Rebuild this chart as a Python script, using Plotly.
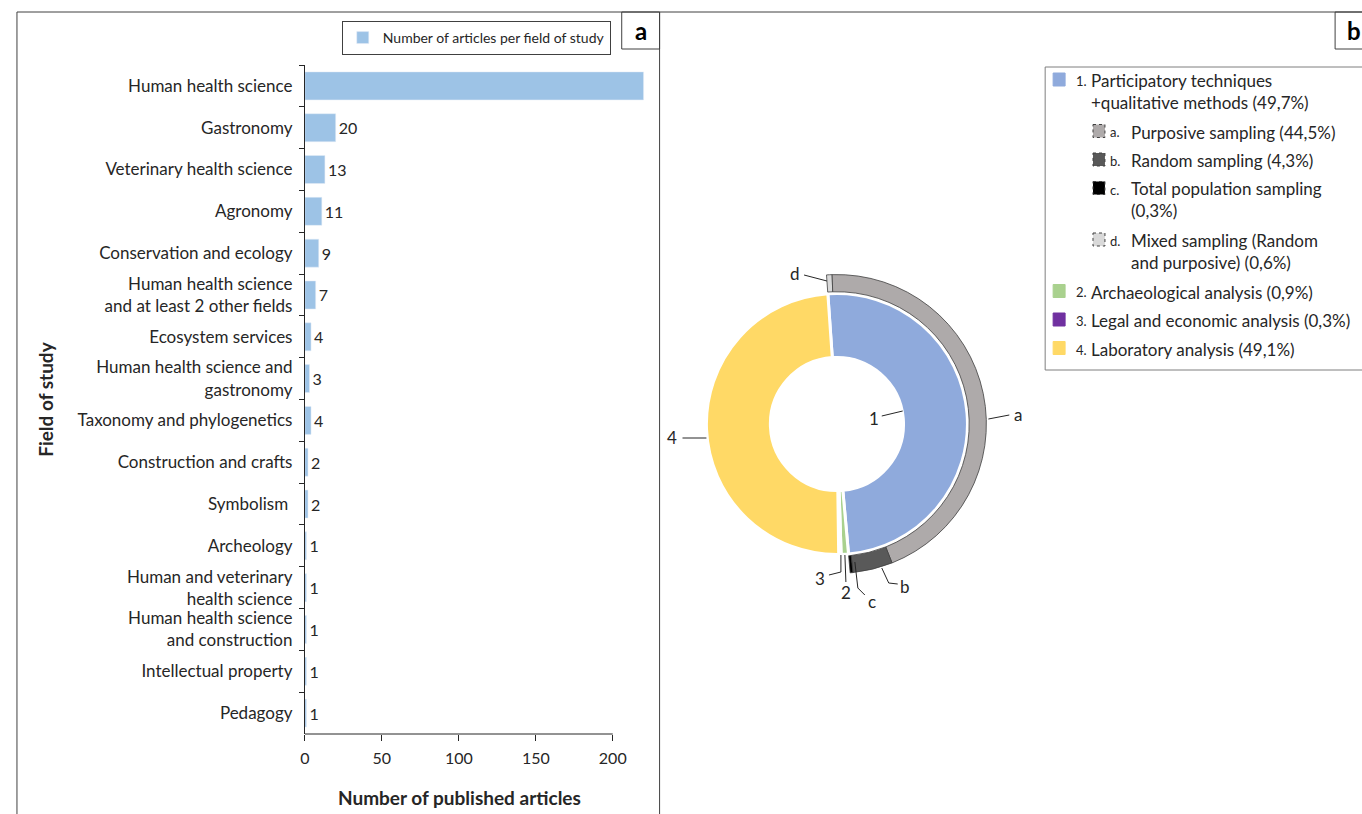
import plotly.graph_objects as go

W, H = 1362, 814
FONT = 'Lato'
INK = '#262626'

# ---- data: panel a ----
fields = ['Human health science', 'Gastronomy', 'Veterinary health science', 'Agronomy',
          'Conservation and ecology', 'Human health science<br>and at least 2 other fields',
          'Ecosystem services', 'Human health science and<br>gastronomy',
          'Taxonomy and phylogenetics', 'Construction and crafts', 'Symbolism ',
          'Archeology', 'Human and veterinary<br>health science',
          'Human health science<br>and construction', 'Intellectual property', 'Pedagogy']
articles = [220, 20, 13, 11, 9, 7, 4, 3, 4, 2, 2, 1, 1, 1, 1, 1]
bar_labels = [''] + [str(v) for v in articles[1:]]   # top bar runs off the frame, no label
x_ticks = [0, 50, 100, 150, 200]

# ---- data: panel b ----
method_ids = ['1', '2', '3', '4']
method_names = ['Participatory techniques<br>+qualitative methods', 'Archaeological analysis',
                'Legal and economic analysis', 'Laboratory analysis']
method_share = [49.7, 0.9, 0.3, 49.1]
method_colors = ['#8FAADC', '#A9D18E', '#7030A0', '#FFD966']

sampling_ids = ['d', 'a', 'b', 'c']
sampling_names = ['Mixed sampling (Random<br>and purposive)', 'Purposive sampling',
                  'Random sampling', 'Total population sampling<br>']
sampling_share = [0.6, 44.5, 4.3, 0.3]
sampling_colors = ['#D9D9D9', '#AEAAAA', '#595959', '#000000']


def X(p):
    return p / W


def Y(p):
    return 1 - p / H


def pct(v):
    return f'{v:.1f}%'.replace('.', ',')


def note(x, y, text, size, **kw):
    d = dict(x=X(x), y=Y(y), xref='paper', yref='paper', text=text, showarrow=False,
             xanchor='center', yanchor='middle', font=dict(family=FONT, size=size, color=INK))
    d.update(kw)
    return d


fig = go.Figure()

fig.add_trace(go.Bar(
    x=articles, y=fields, orientation='h',
    marker=dict(color='#9DC3E6'),
    text=bar_labels, textposition='outside', cliponaxis=False,
    textfont=dict(family=FONT, size=16, color=INK),
    name='Number of articles per field of study', showlegend=True,
))

# inner ring: methods
rot = -4
fig.add_trace(go.Pie(
    values=method_share, labels=method_ids, sort=False, direction='clockwise',
    rotation=rot, hole=0.51, textinfo='none', hoverinfo='label+value',
    marker=dict(colors=method_colors, line=dict(color='white', width=3)),
    domain=dict(x=[X(704), X(966)], y=[Y(555), Y(293)]), showlegend=False,
))

# outer ring: sampling within method 1, the rest left empty
rest = round(100 - sum(sampling_share), 1)
fig.add_trace(go.Pie(
    values=sampling_share + [rest], labels=sampling_ids + ['rest'], sort=False,
    direction='clockwise', rotation=rot, hole=0.885, textinfo='none',
    hoverinfo='label+value',
    marker=dict(colors=sampling_colors + ['rgba(0,0,0,0)'],
                line=dict(color=['#404040'] * 4 + ['rgba(0,0,0,0)'], width=[0.8] * 4 + [0])),
    domain=dict(x=[X(685), X(985)], y=[Y(574), Y(274)]), showlegend=False,
))

shapes = []
annotations = []

# frames
line_col = '#404040'
for x0, y0, x1, y1 in [(12, 12, 1362, 12), (12, 12, 12, 814), (657, 12, 657, 814)]:
    shapes.append(dict(type='line', xref='paper', yref='paper', x0=X(x0), y0=Y(y0),
                       x1=X(x1), y1=Y(y1), line=dict(color=line_col, width=1)))
for x0, x1, txt, tx in [(619, 657, 'a', 638), (1335, 1372, 'b', 1354)]:
    shapes.append(dict(type='rect', xref='paper', yref='paper', x0=X(x0), y0=Y(12),
                       x1=X(x1), y1=Y(49), line=dict(color=line_col, width=1)))
    annotations.append(note(tx, 31, f'<b>{txt}</b>', 24,
                            font=dict(family=FONT, size=24, color='black')))

# x axis line only as far as the last tick
shapes.append(dict(type='line', xref='x', yref='paper', x0=0, x1=x_ticks[-1],
                   y0=Y(734), y1=Y(734), line=dict(color=INK, width=1)))

# axis titles
annotations.append(note(456, 797, '<b>Number of published articles</b>', 19))
annotations.append(note(41, 399, '<b>Field of study</b>', 19, textangle=-90))

# leader lines and labels on the donut
leaders = [
    ('d', (793, 273), [(802, 275), (825, 281)]),
    ('1', (872, 418), [(880, 416), (901, 411)]),
    ('a', (1017, 414), [(987, 419), (1008, 415)]),
    ('4', (669, 438), [(680, 438), (704, 438)]),
    ('3', (818, 578), [(827, 575), (839, 572), (839, 555)]),
    ('2', (844, 592), [(844, 582), (843, 555)]),
    ('c', (870, 601), [(863, 595), (856, 588), (853, 562)]),
    ('b', (903, 586), [(896, 584), (887, 583), (880, 568)]),
]
for txt, (tx, ty), pts in leaders:
    path = 'M ' + ' L '.join(f'{X(px)},{Y(py)}' for px, py in pts)
    shapes.append(dict(type='path', xref='paper', yref='paper', path=path,
                       line=dict(color=INK, width=1)))
    annotations.append(note(tx, ty, txt, 17))

# legend b, drawn by hand so sub-items can be indented
shapes.append(dict(type='rect', xref='paper', yref='paper', x0=X(1044), y0=Y(67),
                   x1=X(1372), y1=Y(370), line=dict(color='#7F7F7F', width=1)))
rows = [(method_ids[0], method_names[0], method_share[0], method_colors[0], False)]
rows += [(i, n, s, c, True) for i, n, s, c in
         sorted(zip(sampling_ids, sampling_names, sampling_share, sampling_colors))]
rows += [(i, n, s, c, False) for i, n, s, c in
         zip(method_ids[1:], method_names[1:], method_share[1:], method_colors[1:])]
y = 80
for rid, name, share, color, sub in rows:
    sx, nx, lx = (1092, 1107, 1128) if sub else (1052, 1073, 1088)
    shapes.append(dict(type='rect', xref='paper', yref='paper', x0=X(sx), x1=X(sx + 12),
                       y0=Y(y - 7), y1=Y(y + 6), fillcolor=color,
                       line=dict(color='#404040' if sub else color, width=1,
                                 dash='dot' if sub else 'solid')))
    annotations.append(note(nx, y + 1, f'{rid}.', 13, xanchor='left'))
    label = f'{name} ({pct(share)})' if not name.endswith('<br>') else f'{name}({pct(share)})'
    nlines = label.count('<br>') + 1
    annotations.append(note(lx, y - 12, label, 17, xanchor='left', yanchor='top', align='left'))
    y += 23 * (nlines - 1) + 28.5

fig.update_layout(
    width=W, height=H, margin=dict(l=0, r=0, t=0, b=0),
    paper_bgcolor='white', plot_bgcolor='white',
    font=dict(family=FONT, color=INK),
    bargap=0.33,
    xaxis=dict(domain=[X(301), X(644)], range=[0, 222], tickvals=x_ticks,
               ticks='outside', ticklen=6, tickcolor=INK, showline=False, showgrid=False,
               zeroline=False, ticklabelstandoff=4,
               tickfont=dict(family=FONT, size=16, color=INK)),
    yaxis=dict(domain=[Y(734), Y(65)], autorange='reversed', showline=True,
               linecolor=INK, ticks='outside', tickson='boundaries', ticklen=5,
               tickcolor=INK, showgrid=False, ticklabelstandoff=8,
               tickfont=dict(family=FONT, size=17, color=INK)),
    legend=dict(x=X(338), y=Y(21), xanchor='left', yanchor='top', bordercolor='#404040',
                borderwidth=1, font=dict(family=FONT, size=14, color=INK),
                itemwidth=30, tracegroupgap=0),
    shapes=shapes, annotations=annotations,
)

fig.write_html('out.html', config={'displayModeBar': False},
               post_script="document.body.style.margin='0';")
